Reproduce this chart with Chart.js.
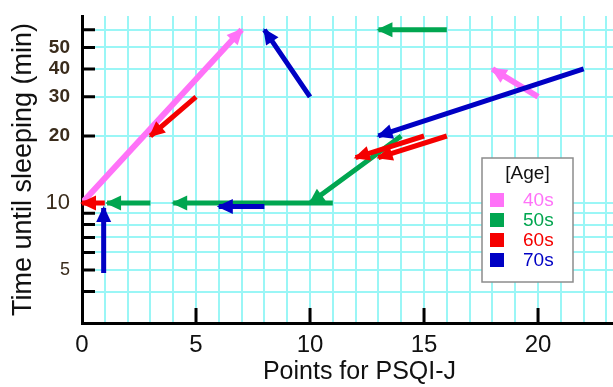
<!DOCTYPE html>
<html>
<head>
<meta charset="utf-8">
<title>PSQI-J and time until sleeping</title>
<script src="https://cdn.jsdelivr.net/npm/chart.js@4.4.1/dist/chart.umd.min.js"></script>
<style>
  html, body { margin: 0; padding: 0; background: #fff; overflow: hidden; }
  #chart { display: block; }
</style>
</head>
<body>
<canvas id="chart" width="637" height="387"></canvas>
<script>
// age groups (legend) and colours
const ageGroups = ['40s', '50s', '60s', '70s'];
const groupColors = ['#ff72f8', '#00a650', '#f50000', '#0000c4'];
const legendTitle = '[Age]';

// each arrow: [PSQI-J from, minutes from, PSQI-J to, minutes to]
const arrows40s = [[0, 10, 7, 60], [20, 30, 18, 40]];
const arrows50s = [[16, 60, 13, 60], [14, 20, 10, 10], [11, 10, 4, 10], [3, 10, 1.1, 10]];
const arrows60s = [[5, 30, 3, 20], [16, 20, 13, 16], [15, 20, 12, 16], [1, 10, 0, 10]];
const arrows70s = [[10, 30, 8, 60], [22, 40, 13, 20], [8, 9.65, 6, 9.65], [0.95, 4.85, 0.95, 9.5]];

// axis ticks
const xTickValues = [0, 1, 2, 3, 4, 5, 6, 7, 8, 9, 10, 11, 12, 13, 14, 15, 16, 17, 18, 19, 20, 21, 22, 23, 24];
const xTickLabels = [0, 5, 10, 15, 20];
const yTickValues = [4, 5, 6, 7, 8, 9, 10, 20, 30, 40, 50, 60];
const yTickLabels = [5, 10, 20, 30, 40, 50];

const allArrows = [arrows40s, arrows50s, arrows60s, arrows70s];
const lineWidths = [6, 5, 5, 5];
const drawOrder = [2, 3, 0, 1]; // red ends up on top

Chart.defaults.font.family = '"Liberation Sans", Arial, sans-serif';

// start, end, gap for every arrow
function toPoints(arrows) {
    const pts = [];
    arrows.forEach(a => {
        pts.push({ x: a[0], y: a[1] }, { x: a[2], y: a[3] }, { x: a[2], y: null });
    });
    return pts;
}

const gridColor = '#9af6f6';

// arrow heads, drawn right after each dataset's lines
const arrowHeads = {
    id: 'arrowHeads',
    afterDatasetDraw(chart, args) {
        const ctx = chart.ctx;
        const pts = args.meta.data;
        ctx.save();
        ctx.fillStyle = chart.data.datasets[args.index].borderColor;
        for (let i = 0; i + 1 < pts.length; i += 3) {
            const p0 = pts[i], p1 = pts[i + 1];
            const ang = Math.atan2(p1.y - p0.y, p1.x - p0.x);
            ctx.save();
            ctx.translate(p1.x + Math.cos(ang) * 2, p1.y + Math.sin(ang) * 2);
            ctx.rotate(ang);
            ctx.beginPath();
            ctx.moveTo(0, 0);
            ctx.lineTo(-16, -7.5);
            ctx.lineTo(-16, 7.5);
            ctx.closePath();
            ctx.fill();
            ctx.restore();
        }
        ctx.restore();
    }
};

// black tick marks pointing into the plot
const innerTicks = {
    id: 'innerTicks',
    beforeDatasetsDraw(chart) {
        const { ctx, chartArea, scales: { x, y } } = chart;
        ctx.save();
        ctx.strokeStyle = '#000';
        ctx.lineWidth = 3;
        ctx.beginPath();
        yTickValues.forEach(v => {
            const py = y.getPixelForValue(v);
            ctx.moveTo(chartArea.left, py);
            ctx.lineTo(chartArea.left + 13, py);
        });
        xTickLabels.filter(v => v > 0).forEach(v => {
            const px = x.getPixelForValue(v);
            ctx.moveTo(px, chartArea.bottom);
            ctx.lineTo(px, chartArea.bottom - 15);
        });
        ctx.stroke();
        ctx.restore();
    }
};

// boxed legend inside the plot
const ageLegend = {
    id: 'ageLegend',
    afterDraw(chart) {
        const ctx = chart.ctx;
        const left = 482, top = 158, w = 91, h = 124;
        ctx.save();
        ctx.fillStyle = '#fff';
        ctx.fillRect(left, top, w, h);
        ctx.strokeStyle = '#8c8c8c';
        ctx.lineWidth = 1.5;
        ctx.strokeRect(left, top, w, h);
        ctx.font = '19px "Liberation Sans", Arial, sans-serif';
        ctx.textBaseline = 'middle';
        ctx.textAlign = 'center';
        ctx.fillStyle = '#111';
        ctx.fillText(legendTitle, left + w / 2, 174);
        ctx.textAlign = 'left';
        chart.data.datasets.forEach((ds, i) => {
            const cy = 200 + i * 20;
            ctx.fillStyle = ds.borderColor;
            ctx.fillRect(490, cy - 7, 14, 14);
            ctx.fillText(ds.label, 523, cy + 1);
        });
        ctx.restore();
    }
};

const ctx = document.getElementById('chart').getContext('2d');
const chart = new Chart(ctx, {
    type: 'scatter',
    data: {
        datasets: ageGroups.map((g, i) => ({
            label: g,
            data: toPoints(allArrows[i]),
            showLine: true,
            spanGaps: false,
            borderColor: groupColors[i],
            backgroundColor: groupColors[i],
            borderWidth: lineWidths[i],
            borderCapStyle: 'butt',
            pointRadius: 0,
            pointHoverRadius: 0,
            order: drawOrder[i]
        }))
    },
    options: {
        responsive: false,
        animation: false,
        devicePixelRatio: 1,
        layout: { padding: { left: 0, top: 16, right: 0, bottom: 0 } },
        plugins: {
            legend: { display: false },
            tooltip: { enabled: false }
        },
        scales: {
            x: {
                type: 'linear',
                min: 0,
                max: 24.34,
                afterBuildTicks: s => { s.ticks = xTickValues.map(v => ({ value: v })); },
                afterFit: s => { s.height = 64; s.paddingLeft = 0; s.paddingRight = 0; },
                grid: { color: gridColor, lineWidth: 2, drawTicks: false },
                border: { color: '#000', width: 3 },
                ticks: {
                    padding: 8,
                    color: '#111',
                    autoSkip: false,
                    maxRotation: 0,
                    font: { size: 24 },
                    callback: v => xTickLabels.includes(v) ? String(v) : ''
                },
                title: {
                    display: true,
                    text: 'Points for PSQI-J',
                    color: '#111',
                    font: { size: 25 },
                    padding: 0
                }
            },
            y: {
                type: 'logarithmic',
                min: 2.89,
                max: 69.2,
                afterBuildTicks: s => { s.ticks = yTickValues.map(v => ({ value: v })); },
                afterFit: s => { s.width = 82; s.paddingTop = 0; s.paddingBottom = 0; },
                grid: { color: gridColor, lineWidth: 2, drawTicks: false },
                border: { color: '#000', width: 3 },
                ticks: {
                    padding: 12,
                    color: '#3a2c1c',
                    autoSkip: false,
                    font: c => {
                        const v = c.tick ? c.tick.value : 0;
                        if (v === 10) return { size: 22 };
                        if (v === 5) return { size: 18 };
                        return { size: 19, weight: 'bold' };
                    },
                    callback: v => yTickLabels.includes(v) ? String(v) : ''
                },
                title: {
                    display: true,
                    text: 'Time until sleeping (min)',
                    color: '#111',
                    font: { size: 27 },
                    padding: { top: 7, bottom: 0 }
                }
            }
        }
    },
    plugins: [innerTicks, arrowHeads, ageLegend]
});
</script>
</body>
</html>
